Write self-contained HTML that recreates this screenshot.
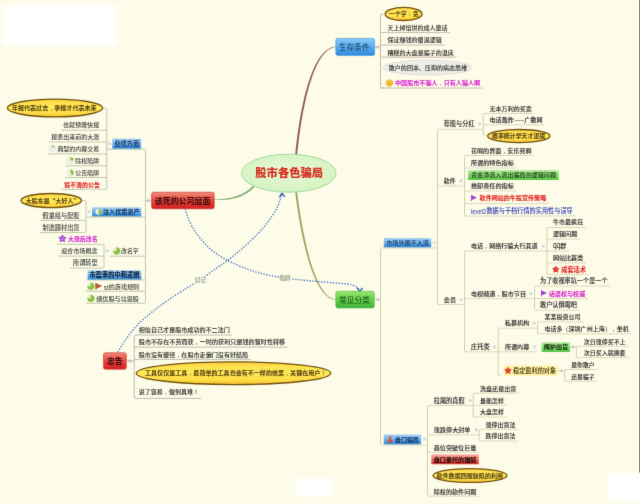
<!DOCTYPE html>
<html lang="zh-CN"><head><meta charset="utf-8"><title>股市各色骗局</title>
<style>html,body{margin:0;padding:0;background:#FDFCE8;}body{width:640px;height:504px;overflow:hidden;}svg{display:block;font-family:"Liberation Sans","Noto Sans CJK SC",sans-serif;}text{text-spacing-trim:space-all;}.p{font-family:"Liberation Sans","WenQuanYi Zen Hei",sans-serif;}.q{font-family:"Noto Sans CJK SC",sans-serif;}</style>
</head><body>
<svg width="640" height="504" viewBox="0 0 640 504">
<defs>
<linearGradient id="gYel" x1="0" y1="0" x2="0" y2="1"><stop offset="0" stop-color="#FCCF40"/><stop offset="0.25" stop-color="#FFE350"/><stop offset="0.5" stop-color="#FFE956"/><stop offset="0.8" stop-color="#FFDC44"/><stop offset="1" stop-color="#F6C032"/></linearGradient>
<linearGradient id="gBlue" x1="0" y1="0" x2="0" y2="1"><stop offset="0" stop-color="#8ACBF7"/><stop offset="0.5" stop-color="#57ACEE"/><stop offset="1" stop-color="#2F8BDD"/></linearGradient>
<linearGradient id="gBlueL" x1="0" y1="0" x2="0" y2="1"><stop offset="0" stop-color="#A9D3F4"/><stop offset="0.5" stop-color="#6DB2EA"/><stop offset="1" stop-color="#2C84D8"/></linearGradient>
<linearGradient id="gGreen" x1="0" y1="0" x2="0" y2="1"><stop offset="0" stop-color="#97E86B"/><stop offset="0.5" stop-color="#62CF4A"/><stop offset="1" stop-color="#3FB53A"/></linearGradient>
<linearGradient id="gGreenL" x1="0" y1="0" x2="0" y2="1"><stop offset="0" stop-color="#B8EFA2"/><stop offset="0.5" stop-color="#84DB6C"/><stop offset="1" stop-color="#55C648"/></linearGradient>
<linearGradient id="gRed" x1="0" y1="0" x2="0" y2="1"><stop offset="0" stop-color="#F58A78"/><stop offset="0.5" stop-color="#E8453A"/><stop offset="1" stop-color="#D31F1F"/></linearGradient>
<linearGradient id="gRedL" x1="0" y1="0" x2="0" y2="1"><stop offset="0" stop-color="#F9B5A8"/><stop offset="0.5" stop-color="#EE6A5E"/><stop offset="1" stop-color="#DD2B2B"/></linearGradient>
<radialGradient id="gCenter" cx="0.5" cy="0.45" r="0.6"><stop offset="0" stop-color="#E6F9D6"/><stop offset="1" stop-color="#D3F2BF"/></radialGradient>
<filter id="soft" x="0" y="0" width="640" height="504" filterUnits="userSpaceOnUse" color-interpolation-filters="sRGB"><feConvolveMatrix order="3" kernelMatrix="0 1 0 1 8 1 0 1 0" divisor="12" edgeMode="duplicate" preserveAlpha="false"/></filter>
<filter id="soft2" x="-20%" y="-20%" width="140%" height="140%"><feGaussianBlur stdDeviation="1.2"/></filter>
</defs>
<rect x="0" y="0" width="640" height="504" fill="#FDFCE8"/>
<g filter="url(#soft2)">
<rect x="2.5" y="5" width="115" height="40" fill="#FFFFFF"/>
<rect x="295.5" y="478.5" width="36" height="18" fill="#FFFFFF"/>
<rect x="607.5" y="473" width="40" height="28" fill="#FFFFFF"/>
</g>
<rect x="637.6" y="0" width="1.4" height="472.5" fill="#FFFFF2"/>
<rect x="639" y="0" width="1" height="472.5" fill="#85837B"/>
<g id="map" filter="url(#soft)" font-weight="500">
<path d="M296.95 156.09L297.30 152.62L297.67 149.09L298.08 145.52L298.51 141.91L298.97 138.27L299.45 134.61L299.97 130.93L300.51 127.24L301.09 123.54L301.69 119.86L302.33 116.18L302.99 112.53L303.69 108.90L304.42 105.30L305.18 101.75L305.97 98.24L306.80 94.79L307.66 91.41L308.55 88.09L309.48 84.85L310.45 81.70L311.45 78.63L312.48 75.67L313.55 72.81L314.66 70.06L315.81 67.44L316.99 64.94L318.21 62.58L319.46 60.36L320.76 58.28L322.10 56.36L323.47 54.61L324.88 53.02L326.34 51.61L327.83 50.37L329.37 49.32L330.95 48.47L332.59 47.81L334.27 47.36L336.01 47.12L335.99 46.68L334.18 46.83L332.40 47.21L330.66 47.82L328.97 48.64L327.32 49.66L325.71 50.89L324.16 52.30L322.64 53.90L321.18 55.67L319.76 57.60L318.38 59.69L317.05 61.94L315.76 64.32L314.51 66.84L313.31 69.48L312.14 72.25L311.02 75.13L309.94 78.12L308.90 81.20L307.89 84.37L306.93 87.63L306.00 90.97L305.11 94.37L304.25 97.84L303.43 101.36L302.65 104.93L301.90 108.54L301.19 112.19L300.50 115.86L299.86 119.55L299.24 123.25L298.66 126.95L298.10 130.66L297.58 134.35L297.09 138.03L296.62 141.68L296.19 145.30L295.78 148.89L295.41 152.42L295.05 155.91Z" fill="#8E5850"/>
<path d="M295.06 191.12L295.48 194.46L295.93 197.86L296.41 201.33L296.91 204.84L297.44 208.40L297.99 211.99L298.58 215.61L299.19 219.24L299.82 222.89L300.49 226.55L301.19 230.20L301.91 233.84L302.67 237.46L303.45 241.05L304.27 244.61L305.12 248.13L306.00 251.60L306.91 255.02L307.85 258.36L308.83 261.64L309.84 264.84L310.88 267.94L311.96 270.96L313.08 273.87L314.23 276.66L315.41 279.34L316.63 281.90L317.89 284.32L319.19 286.60L320.52 288.72L321.89 290.70L323.30 292.50L324.76 294.13L326.25 295.58L327.78 296.84L329.35 297.89L330.96 298.74L332.60 299.36L334.28 299.76L335.99 299.92L336.01 299.48L334.38 299.23L332.80 298.76L331.27 298.09L329.77 297.22L328.32 296.14L326.89 294.88L325.51 293.44L324.15 291.82L322.83 290.02L321.54 288.07L320.29 285.96L319.06 283.70L317.87 281.30L316.71 278.76L315.59 276.10L314.49 273.32L313.43 270.43L312.39 267.43L311.39 264.34L310.42 261.16L309.48 257.90L308.57 254.57L307.69 251.17L306.83 247.72L306.01 244.21L305.22 240.66L304.45 237.08L303.71 233.47L303.00 229.85L302.32 226.21L301.67 222.57L301.04 218.93L300.44 215.30L299.86 211.69L299.31 208.11L298.79 204.57L298.29 201.06L297.82 197.61L297.37 194.21L296.94 190.88Z" fill="#A2A05E"/>
<path d="M253.33 185.39L252.59 186.19L251.84 186.95L251.07 187.68L250.29 188.38L249.50 189.06L248.69 189.71L247.87 190.33L247.03 190.93L246.18 191.50L245.32 192.04L244.45 192.57L243.56 193.06L242.66 193.54L241.75 193.99L240.83 194.43L239.89 194.84L238.94 195.22L237.98 195.59L237.00 195.94L236.02 196.27L235.02 196.58L234.01 196.87L232.99 197.15L231.96 197.41L230.91 197.65L229.86 197.87L228.79 198.08L227.71 198.27L226.63 198.45L225.53 198.61L224.42 198.76L223.30 198.90L222.17 199.02L221.03 199.14L219.88 199.24L218.72 199.32L217.56 199.40L216.38 199.47L215.19 199.53L214.00 199.58L214.00 200.03L215.20 200.06L216.39 200.09L217.58 200.10L218.75 200.10L219.92 200.08L221.09 200.05L222.24 200.00L223.39 199.94L224.53 199.86L225.66 199.77L226.78 199.65L227.90 199.52L229.00 199.38L230.10 199.21L231.19 199.02L232.27 198.81L233.34 198.59L234.39 198.34L235.44 198.07L236.48 197.78L237.51 197.47L238.53 197.13L239.53 196.77L240.53 196.38L241.51 195.98L242.48 195.54L243.44 195.08L244.39 194.60L245.32 194.09L246.24 193.55L247.15 192.98L248.04 192.39L248.92 191.77L249.79 191.12L250.64 190.44L251.47 189.74L252.29 189.00L253.10 188.23L253.89 187.43L254.67 186.61Z" fill="#84AC72"/>
<path d="M185.20 209.00C185.75 210.63 187.07 215.40 188.50 218.80C189.93 222.20 191.53 225.77 193.80 229.40C196.07 233.03 198.98 237.03 202.10 240.60C205.22 244.17 208.33 247.53 212.50 250.80C216.67 254.07 221.88 257.38 227.10 260.20C232.32 263.02 238.60 265.62 243.80 267.70C249.00 269.78 253.10 271.23 258.30 272.70C263.50 274.17 269.08 275.42 275.00 276.50C280.92 277.58 287.80 278.47 293.80 279.20C299.80 279.93 303.47 280.22 311.00 280.90C318.53 281.58 332.08 282.62 339.00 283.30C345.92 283.98 349.10 283.95 352.50 285.00C355.90 286.05 358.25 288.83 359.40 289.60" stroke="#3A6CC6" stroke-width="1.35" stroke-dasharray="1.3 1.6" fill="none"/>
<path d="M117.80 352.00C119.10 349.97 122.38 344.27 125.60 339.80C128.82 335.33 132.75 329.78 137.10 325.20C141.45 320.62 146.50 316.50 151.70 312.30C156.90 308.10 162.33 304.12 168.30 300.00C174.27 295.88 182.22 290.93 187.50 287.60C192.78 284.27 195.13 283.27 200.00 280.00C204.87 276.73 211.83 271.47 216.70 268.00C221.57 264.53 225.03 262.37 229.20 259.20C233.37 256.03 236.85 253.33 241.70 249.00C246.55 244.67 253.78 237.93 258.30 233.20C262.82 228.47 265.68 224.80 268.80 220.60C271.92 216.40 274.87 212.23 277.00 208.00C279.13 203.77 280.83 197.33 281.60 195.20" stroke="#3A6CC6" stroke-width="1.35" stroke-dasharray="1.3 1.6" fill="none"/>
<path d="M279.3 197.3L282 193.2L284.7 196.9" stroke="#2F58A8" stroke-width="1.3" fill="none" stroke-linejoin="round"/>
<path d="M356.9 287.6L359.8 291.3L362.6 288" stroke="#2F58A8" stroke-width="1.3" fill="none" stroke-linejoin="round"/>
<rect x="279.30" y="274.40" width="11.70" height="6.80" rx="0.5" fill="#FDFCE8"/>
<text x="285.10" y="279.87" font-size="5.60" fill="#8A8A82" text-anchor="middle">陷阱</text>
<rect x="194.40" y="276.80" width="12.00" height="6.80" rx="0.5" fill="#FDFCE8"/>
<text x="200.40" y="282.27" font-size="5.60" fill="#8A8A82" text-anchor="middle">切记</text>
<ellipse cx="288.8" cy="173.2" rx="47.3" ry="19.0" fill="url(#gCenter)" stroke="#A2DA98" stroke-width="1"/>
<text x="289.20" y="177.42" font-size="11.30" fill="#D62A1C" text-anchor="middle" font-weight="700" style="font-weight:900">股市各色骗局</text>
<rect x="335.80" y="38.40" width="38.80" height="17.00" rx="2.0" fill="url(#gBlue)" stroke="#3E8FD8" stroke-width="0.6"/>
<text x="339.00" y="49.66" font-size="7.80" fill="#16304E" font-weight="400" textLength="30.60" lengthAdjust="spacingAndGlyphs">生存条件</text>
<rect x="335.80" y="291.30" width="38.50" height="16.70" rx="2.0" fill="url(#gGreen)" stroke="#4DB845" stroke-width="0.6"/>
<text x="339.00" y="303.10" font-size="7.91" fill="#184A16" font-weight="400" textLength="31.00" lengthAdjust="spacingAndGlyphs">常见分类</text>
<rect x="151.60" y="192.20" width="62.60" height="16.60" rx="2.0" fill="url(#gRed)" stroke="#B83028" stroke-width="0.6"/>
<text x="154.80" y="203.67" font-size="8.10" fill="#350C0C" stroke="#350C0C" stroke-width="0.06" font-weight="700" textLength="55.60" lengthAdjust="spacingAndGlyphs">该死的公司层面</text>
<rect x="103.50" y="352.70" width="22.80" height="16.60" rx="2.0" fill="url(#gRed)" stroke="#C03830" stroke-width="0.6"/>
<text x="107.00" y="363.71" font-size="7.96" fill="#350C0C" stroke="#350C0C" stroke-width="0.06" font-weight="700" textLength="15.60" lengthAdjust="spacingAndGlyphs">忠告</text>
<circle cx="377.50" cy="47.00" r="1.6" fill="#D3DBE6" stroke="#C9D3DF" stroke-width="0.4"/>
<path d="M374.5 47H380.5" stroke="#B3A59C" stroke-width="0.75" fill="none"/>
<path d="M383.50 14.20L382.10 14.20Q380.50 14.20 380.50 15.80L380.50 17.50V85.50L380.50 86.40Q380.50 88.00 382.10 88.00L383.50 88.00" stroke="#B3A59C" stroke-width="0.75" fill="none"/>
<ellipse cx="403.60" cy="13.90" rx="18.40" ry="6.55" fill="url(#gYel)" stroke="#73520F" stroke-width="1.35"/>
<text x="388.80" y="16.25" font-size="6.12" fill="#5A4214" stroke="#5A4214" stroke-width="0.06" font-weight="700" textLength="30.00" lengthAdjust="spacingAndGlyphs">一个字<tspan class="p">：</tspan>贪</text>
<text x="387.50" y="30.26" font-size="6.13" fill="#303030" stroke="#303030" stroke-width="0.05" textLength="60.10" lengthAdjust="spacingAndGlyphs">天上掉馅饼的成人童话</text>
<path d="M380.50 32.60H450.00" stroke="#B3A59C" stroke-width="0.75" fill="none"/>
<text x="387.50" y="42.26" font-size="6.14" fill="#303030" stroke="#303030" stroke-width="0.05" textLength="54.20" lengthAdjust="spacingAndGlyphs">保证赚钱的傻逼逻辑</text>
<path d="M380.50 45.00H444.50" stroke="#B3A59C" stroke-width="0.75" fill="none"/>
<text x="387.50" y="54.66" font-size="6.15" fill="#303030" stroke="#303030" stroke-width="0.05" textLength="66.30" lengthAdjust="spacingAndGlyphs">糟糕的大盘是骗子的温床</text>
<path d="M380.50 57.20H456.50" stroke="#B3A59C" stroke-width="0.75" fill="none"/>
<ellipse cx="427.5" cy="67.6" rx="44.3" ry="7.4" fill="#EEEEE9" stroke="#D6D6D0" stroke-width="0.7"/>
<text x="388.80" y="69.86" font-size="6.15" fill="#303030" stroke="#303030" stroke-width="0.05" textLength="78.40" lengthAdjust="spacingAndGlyphs">散户的回本、压抑的病态思维</text>
<circle cx="389.50" cy="83.00" r="3.30" fill="#FFD23C" stroke="#D9921E" stroke-width="0.6"/>
<circle cx="388.40" cy="82.20" r="0.45" fill="#7A4A10"/>
<circle cx="390.60" cy="82.20" r="0.45" fill="#7A4A10"/>
<path d="M387.80 83.60Q389.50 85.40 391.20 83.60" stroke="#7A4A10" stroke-width="0.5" fill="none"/>
<text x="395.00" y="85.28" font-size="6.21" fill="#D61FD0" stroke="#D61FD0" stroke-width="0.06" font-weight="700" textLength="85.20" lengthAdjust="spacingAndGlyphs">中国股市不骗人<tspan class="p">，</tspan>只有人骗人啊</text>
<path d="M380.50 88.00H482.50" stroke="#B3A59C" stroke-width="0.75" fill="none"/>
<circle cx="148.30" cy="200.60" r="1.6" fill="#D3DBE6" stroke="#C9D3DF" stroke-width="0.4"/>
<path d="M151.6 200.6H145.5" stroke="#ADB59C" stroke-width="0.75" fill="none"/>
<path d="M145.50 152.00V300.50L145.50 301.70Q145.50 303.30 143.90 303.30L142.50 303.30" stroke="#ADB59C" stroke-width="0.75" fill="none"/>
<rect x="112.30" y="138.50" width="28.80" height="10.30" rx="0.8" fill="url(#gBlueL)"/>
<text x="126.70" y="146.05" font-size="6.40" fill="#1A3560" text-anchor="middle" font-weight="700" textLength="25.00" lengthAdjust="spacingAndGlyphs">业绩方面</text>
<path d="M106.80 149.20H142.50L143.90 149.20Q145.50 149.20 145.50 150.80L145.50 152.00" stroke="#ADB59C" stroke-width="0.75" fill="none"/>
<circle cx="109.60" cy="143.80" r="1.4" fill="#D3DBE6" stroke="#C9D3DF" stroke-width="0.4"/>
<path d="M103.00 108.20H104.30L105.20 108.20Q106.80 108.20 106.80 109.80L106.80 111.00V186.50L106.80 187.70Q106.80 189.30 105.20 189.30L104.30 189.30" stroke="#ADB59C" stroke-width="0.75" fill="none"/>
<ellipse cx="55.00" cy="108.00" rx="47.60" ry="8.85" fill="url(#gYel)" stroke="#73520F" stroke-width="1.35"/>
<text x="11.90" y="110.37" font-size="6.17" fill="#5A4214" stroke="#5A4214" stroke-width="0.06" font-weight="700" textLength="84.70" lengthAdjust="spacingAndGlyphs">年报代表过去<tspan class="p">，</tspan>季报才代表未来</text>
<text x="63.00" y="127.47" font-size="6.15" fill="#3a3a3a" textLength="36.20" lengthAdjust="spacingAndGlyphs">也就预增快报</text>
<path d="M61.00 130.20H106.80" stroke="#ADB59C" stroke-width="0.75" fill="none"/>
<text x="51.20" y="139.25" font-size="6.12" fill="#3a3a3a" textLength="48.00" lengthAdjust="spacingAndGlyphs">报表出来前的大涨</text>
<path d="M49.20 142.00H106.80" stroke="#ADB59C" stroke-width="0.75" fill="none"/>
<circle cx="52.30" cy="148.50" r="3.30" fill="#F1F2EC" stroke="#D2D4CA" stroke-width="0.5"/>
<path d="M52.30 148.50L52.30 145.20A3.30 3.30 0 0 1 54.63 146.17Z" fill="#8CC63F"/>
<text x="57.40" y="151.14" font-size="6.09" fill="#3a3a3a" textLength="41.80" lengthAdjust="spacingAndGlyphs">典型的内幕交易</text>
<path d="M47.50 153.90H106.80" stroke="#ADB59C" stroke-width="0.75" fill="none"/>
<circle cx="70.40" cy="160.50" r="3.30" fill="#F1F2EC" stroke="#D2D4CA" stroke-width="0.5"/>
<path d="M70.40 160.50L70.40 157.20A3.30 3.30 0 0 1 73.70 160.50Z" fill="#8CC63F"/>
<text x="75.30" y="163.04" font-size="6.09" fill="#3a3a3a" textLength="23.90" lengthAdjust="spacingAndGlyphs">除权陷阱</text>
<path d="M65.50 165.80H106.80" stroke="#ADB59C" stroke-width="0.75" fill="none"/>
<circle cx="70.40" cy="172.70" r="3.30" fill="#F1F2EC" stroke="#D2D4CA" stroke-width="0.5"/>
<path d="M70.40 172.70L70.40 169.40A3.30 3.30 0 0 1 71.99 175.59Z" fill="#8CC63F"/>
<text x="75.30" y="174.74" font-size="6.09" fill="#3a3a3a" textLength="23.90" lengthAdjust="spacingAndGlyphs">公告陷阱</text>
<path d="M65.50 177.50H106.80" stroke="#ADB59C" stroke-width="0.75" fill="none"/>
<text x="64.00" y="186.55" font-size="6.12" fill="#E0201C" stroke="#E0201C" stroke-width="0.06" font-weight="700" textLength="36.00" lengthAdjust="spacingAndGlyphs">说不清的公告</text>
<path d="M62.00 189.30H104.30" stroke="#ADB59C" stroke-width="0.75" fill="none"/>
<rect x="92.00" y="207.20" width="49.20" height="9.40" rx="0.8" fill="url(#gBlueL)"/>
<circle cx="98.50" cy="211.80" r="2.90" fill="#F1F2EC" stroke="#D2D4CA" stroke-width="0.5"/>
<path d="M98.50 211.80L98.50 208.90A2.90 2.90 0 0 1 98.50 214.70Z" fill="#8CC63F"/>
<text x="103.00" y="214.19" font-size="6.22" fill="#1A3560" stroke="#1A3560" stroke-width="0.06" font-weight="700" textLength="36.60" lengthAdjust="spacingAndGlyphs">注入优质资产</text>
<path d="M86.00 217.00H145.50" stroke="#ADB59C" stroke-width="0.75" fill="none"/>
<circle cx="89.00" cy="211.60" r="1.4" fill="#D3DBE6" stroke="#C9D3DF" stroke-width="0.4"/>
<path d="M82.00 200.50H84.00L84.40 200.50Q86.00 200.50 86.00 202.10L86.00 203.00V230.00L86.00 231.00Q86.00 232.60 84.40 232.60L83.50 232.60" stroke="#ADB59C" stroke-width="0.75" fill="none"/>
<ellipse cx="51.30" cy="200.50" rx="30.20" ry="7.05" fill="url(#gYel)" stroke="#73520F" stroke-width="1.35"/>
<text x="25.80" y="202.73" font-size="6.07" fill="#5A4214" stroke="#5A4214" stroke-width="0.06" font-weight="700" textLength="53.55" lengthAdjust="spacingAndGlyphs">大股东是<tspan class="q">“</tspan>大好人<tspan class="q">”</tspan></text>
<text x="42.50" y="217.91" font-size="6.29" fill="#3a3a3a" textLength="37.00" lengthAdjust="spacingAndGlyphs">假重组与配股</text>
<path d="M40.00 220.40H86.00" stroke="#ADB59C" stroke-width="0.75" fill="none"/>
<text x="42.50" y="230.31" font-size="6.29" fill="#3a3a3a" textLength="37.00" lengthAdjust="spacingAndGlyphs">制造题材出货</text>
<path d="M40.00 232.60H83.50" stroke="#ADB59C" stroke-width="0.75" fill="none"/>
<circle cx="116.65" cy="251.00" r="3.45" fill="#EEF3D6" stroke="#CFDDB0" stroke-width="0.3"/>
<path d="M116.65 251.00L116.65 247.55A3.45 3.45 0 1 1 113.20 251.00Z" fill="#8CC63E" stroke="#7DB836" stroke-width="0.3"/>
<text x="121.00" y="253.23" font-size="6.05" fill="#3a3a3a" textLength="17.80" lengthAdjust="spacingAndGlyphs">改名字</text>
<path d="M110.00 256.20H145.50" stroke="#ADB59C" stroke-width="0.75" fill="none"/>
<circle cx="107.30" cy="251.00" r="1.4" fill="#D3DBE6" stroke="#C9D3DF" stroke-width="0.4"/>
<path d="M57.00 244.30H101.50L102.40 244.30Q104.00 244.30 104.00 245.90L104.00 247.00V265.50L104.00 266.50Q104.00 268.10 102.40 268.10L101.50 268.10" stroke="#ADB59C" stroke-width="0.75" fill="none"/>
<polygon points="62.40,234.90 63.64,236.99 66.01,237.53 64.41,239.35 64.63,241.77 62.40,240.81 60.17,241.77 60.39,239.35 58.79,237.53 61.16,236.99" fill="#A94EE0" stroke="#8428C0" stroke-width="0.6" stroke-linejoin="round"/>
<circle cx="62.40" cy="238.70" r="1.17" fill="#C88AEE"/>
<text x="68.00" y="241.02" font-size="6.04" fill="#D61FD0" stroke="#D61FD0" stroke-width="0.06" font-weight="700" textLength="29.60" lengthAdjust="spacingAndGlyphs">大涨后改名</text>
<text x="61.00" y="253.29" font-size="6.22" fill="#3a3a3a" textLength="36.60" lengthAdjust="spacingAndGlyphs">迎合市场概念</text>
<path d="M58.00 256.10H104.00" stroke="#ADB59C" stroke-width="0.75" fill="none"/>
<text x="73.00" y="265.31" font-size="6.27" fill="#3a3a3a" textLength="24.60" lengthAdjust="spacingAndGlyphs">所谓转型</text>
<path d="M70.00 268.10H101.50" stroke="#ADB59C" stroke-width="0.75" fill="none"/>
<rect x="87.60" y="270.20" width="53.70" height="9.50" rx="0.8" fill="url(#gBlueL)"/>
<text x="89.60" y="277.34" font-size="6.35" fill="#0A1428" stroke="#0A1428" stroke-width="0.06" font-weight="700" textLength="49.80" lengthAdjust="spacingAndGlyphs">市盈率的中和逻辑</text>
<path d="M86.00 279.90H145.50" stroke="#ADB59C" stroke-width="0.75" fill="none"/>
<circle cx="90.85" cy="286.30" r="3.45" fill="#EEF3D6" stroke="#CFDDB0" stroke-width="0.3"/>
<path d="M90.85 286.30L90.85 282.85A3.45 3.45 0 1 1 87.40 286.30Z" fill="#8CC63E" stroke="#7DB836" stroke-width="0.3"/>
<path d="M95.60 282.90L102.40 286.00L95.60 289.10Z" fill="#B4583A"/>
<path d="M95.90 282.90V289.90" stroke="#B4583A" stroke-width="0.8"/>
<text x="103.80" y="289.63" font-size="8.00" fill="#3a3a3a" textLength="5.00" lengthAdjust="spacingAndGlyphs">st</text>
<text x="108.80" y="288.57" font-size="6.16" fill="#3a3a3a" textLength="30.20" lengthAdjust="spacingAndGlyphs">的游戏规则</text>
<path d="M86.00 291.20H145.50" stroke="#ADB59C" stroke-width="0.75" fill="none"/>
<circle cx="90.85" cy="298.40" r="3.45" fill="#EEF3D6" stroke="#CFDDB0" stroke-width="0.3"/>
<path d="M90.85 298.40L90.85 294.95A3.45 3.45 0 1 1 87.40 298.40Z" fill="#8CC63E" stroke="#7DB836" stroke-width="0.3"/>
<text x="96.20" y="300.80" font-size="6.24" fill="#3a3a3a" textLength="42.80" lengthAdjust="spacingAndGlyphs">绩优股与垃圾股</text>
<path d="M86.00 303.30H142.50" stroke="#ADB59C" stroke-width="0.75" fill="none"/>
<circle cx="130.00" cy="361.00" r="1.6" fill="#D3DBE6" stroke="#C9D3DF" stroke-width="0.4"/>
<path d="M126.3 361H134.2" stroke="#A6A69E" stroke-width="0.75" fill="none"/>
<path d="M137.20 335.00L135.80 335.00Q134.20 335.00 134.20 336.60L134.20 338.00V395.60L134.20 396.80Q134.20 398.40 135.80 398.40L137.20 398.40" stroke="#A6A69E" stroke-width="0.75" fill="none"/>
<text x="138.80" y="332.28" font-size="6.19" fill="#2a2a2a" stroke="#2a2a2a" stroke-width="0.05" textLength="91.00" lengthAdjust="spacingAndGlyphs">相信自己才是股市成功的不二法门</text>
<path d="M137.20 335.00H232.00" stroke="#A6A69E" stroke-width="0.75" fill="none"/>
<text x="138.80" y="344.39" font-size="6.22" fill="#2a2a2a" stroke="#2a2a2a" stroke-width="0.05" textLength="146.40" lengthAdjust="spacingAndGlyphs">股市不存在不劳而获<tspan class="p">，</tspan>一时的获利只是钱的暂时性转移</text>
<path d="M134.20 347.10H287.50" stroke="#A6A69E" stroke-width="0.75" fill="none"/>
<text x="138.80" y="356.68" font-size="6.20" fill="#2a2a2a" stroke="#2a2a2a" stroke-width="0.05" textLength="109.40" lengthAdjust="spacingAndGlyphs">股市没有捷径<tspan class="p">，</tspan>在股市走偏门没有好结局</text>
<path d="M134.20 359.40H250.50" stroke="#A6A69E" stroke-width="0.75" fill="none"/>
<ellipse cx="233.50" cy="373.20" rx="97.20" ry="11.35" fill="url(#gYel)" stroke="#73520F" stroke-width="1.35"/>
<text x="145.00" y="375.47" font-size="6.17" fill="#5A4214" stroke="#5A4214" stroke-width="0.06" font-weight="700" textLength="181.40" lengthAdjust="spacingAndGlyphs">工具仅仅是工具<tspan class="p">，</tspan>最简单的工具也会有不一样的效果<tspan class="p">，</tspan>关键在用户<tspan class="p">！</tspan></text>
<text x="138.80" y="394.46" font-size="6.14" fill="#2a2a2a" stroke="#2a2a2a" stroke-width="0.05" textLength="60.20" lengthAdjust="spacingAndGlyphs">说了容易<tspan class="p">，</tspan>做到真难<tspan class="p">！</tspan></text>
<path d="M137.20 398.40H201.50" stroke="#A6A69E" stroke-width="0.75" fill="none"/>
<circle cx="377.80" cy="299.60" r="1.6" fill="#D3DBE6" stroke="#C9D3DF" stroke-width="0.4"/>
<path d="M374.5 299.6H380.5" stroke="#C2C2A2" stroke-width="0.75" fill="none"/>
<path d="M383.50 248.00L382.10 248.00Q380.50 248.00 380.50 249.60L380.50 251.00V442.30L380.50 443.40Q380.50 445.00 382.10 445.00L383.50 445.00" stroke="#C2C2A2" stroke-width="0.75" fill="none"/>
<rect x="383.80" y="238.00" width="47.40" height="9.40" rx="0.8" fill="url(#gBlueL)"/>
<text x="386.20" y="245.10" font-size="6.24" fill="#1A3560" textLength="42.80" lengthAdjust="spacingAndGlyphs">市场外围不入流</text>
<path d="M383.50 248.00H437.50" stroke="#CDCDB0" stroke-width="0.75" fill="none"/>
<circle cx="434.50" cy="242.80" r="1.4" fill="#D3DBE6" stroke="#C9D3DF" stroke-width="0.4"/>
<path d="M440.50 129.40L439.10 129.40Q437.50 129.40 437.50 131.00L437.50 132.40V301.60L437.50 302.90Q437.50 304.50 439.10 304.50L440.50 304.50" stroke="#C2C2A2" stroke-width="0.75" fill="none"/>
<text x="443.80" y="126.11" font-size="6.28" fill="#1e1e1e" stroke="#1e1e1e" stroke-width="0.06" textLength="30.80" lengthAdjust="spacingAndGlyphs">荐股与分红</text>
<path d="M440.50 129.40H483.20" stroke="#CDCDB0" stroke-width="0.75" fill="none"/>
<circle cx="479.60" cy="123.90" r="1.4" fill="#D3DBE6" stroke="#C9D3DF" stroke-width="0.4"/>
<path d="M486.20 113.60L484.80 113.60Q483.20 113.60 483.20 115.20L483.20 116.50V132.50L483.20 133.40Q483.20 135.00 484.80 135.00L486.20 135.00" stroke="#C2C2A2" stroke-width="0.75" fill="none"/>
<text x="489.50" y="110.57" font-size="6.16" fill="#1e1e1e" stroke="#1e1e1e" stroke-width="0.06" textLength="42.30" lengthAdjust="spacingAndGlyphs">无本万利的买卖</text>
<path d="M486.20 113.60H534.50" stroke="#CDCDB0" stroke-width="0.75" fill="none"/>
<text x="489.50" y="122.08" font-size="6.20" fill="#1e1e1e" stroke="#1e1e1e" stroke-width="0.06" textLength="24.30" lengthAdjust="spacingAndGlyphs">电话轰炸</text>
<text x="514.40" y="121.81" font-size="6.00" fill="#1e1e1e" stroke="#1e1e1e" stroke-width="0.06" textLength="9.60" lengthAdjust="spacingAndGlyphs">-----</text>
<text x="524.30" y="122.08" font-size="6.19" fill="#1e1e1e" stroke="#1e1e1e" stroke-width="0.06" textLength="18.20" lengthAdjust="spacingAndGlyphs">广撒网</text>
<path d="M483.20 124.80H545.00" stroke="#CDCDB0" stroke-width="0.75" fill="none"/>
<ellipse cx="518.80" cy="136.00" rx="31.20" ry="6.55" fill="url(#gYel)" stroke="#73520F" stroke-width="1.35"/>
<text x="492.00" y="138.22" font-size="6.03" fill="#5A4214" stroke="#5A4214" stroke-width="0.06" font-weight="700" textLength="53.20" lengthAdjust="spacingAndGlyphs">概率统计学天才逻辑</text>
<text x="443.80" y="183.25" font-size="6.12" fill="#1e1e1e" stroke="#1e1e1e" stroke-width="0.06" textLength="12.00" lengthAdjust="spacingAndGlyphs">软件</text>
<path d="M437.50 186.00H464.50" stroke="#CDCDB0" stroke-width="0.75" fill="none"/>
<circle cx="461.00" cy="181.00" r="1.4" fill="#D3DBE6" stroke="#C9D3DF" stroke-width="0.4"/>
<path d="M467.50 155.50L466.10 155.50Q464.50 155.50 464.50 157.10L464.50 158.50V213.20L464.50 214.40Q464.50 216.00 466.10 216.00L467.50 216.00" stroke="#C2C2A2" stroke-width="0.75" fill="none"/>
<text x="471.00" y="152.77" font-size="6.17" fill="#1e1e1e" stroke="#1e1e1e" stroke-width="0.06" textLength="60.50" lengthAdjust="spacingAndGlyphs">花哨的界面<tspan class="p">，</tspan>安乐死啊</text>
<path d="M467.50 155.50H534.00" stroke="#CDCDB0" stroke-width="0.75" fill="none"/>
<text x="471.00" y="165.30" font-size="6.24" fill="#1e1e1e" stroke="#1e1e1e" stroke-width="0.06" textLength="42.80" lengthAdjust="spacingAndGlyphs">所谓的特色指标</text>
<path d="M464.50 168.00H516.50" stroke="#CDCDB0" stroke-width="0.75" fill="none"/>
<rect x="468.00" y="170.00" width="90.80" height="10.00" rx="0.6" fill="url(#gGreenL)"/>
<text x="471.00" y="177.38" font-size="6.19" fill="#1E2E14" textLength="85.00" lengthAdjust="spacingAndGlyphs">资金净流入流出骗局的逻辑问题</text>
<text x="471.00" y="188.30" font-size="6.24" fill="#1e1e1e" stroke="#1e1e1e" stroke-width="0.06" textLength="42.80" lengthAdjust="spacingAndGlyphs">推卸责任的指标</text>
<path d="M464.50 191.00H516.50" stroke="#CDCDB0" stroke-width="0.75" fill="none"/>
<path d="M471.20 195.10L477.00 197.70L471.20 200.30Z" fill="#9A3FD6"/>
<path d="M471.50 195.10V201.10" stroke="#9A3FD6" stroke-width="0.8"/>
<text x="479.60" y="200.37" font-size="6.18" fill="#E0201C" stroke="#E0201C" stroke-width="0.06" font-weight="700" textLength="66.60" lengthAdjust="spacingAndGlyphs">软件网站的牛股宣传策略</text>
<path d="M464.50 203.60H549.00" stroke="#CDCDB0" stroke-width="0.75" fill="none"/>
<text x="471.00" y="213.71" font-size="7.40" fill="#2632B0" textLength="15.20" lengthAdjust="spacingAndGlyphs">level2</text>
<text x="486.40" y="212.82" font-size="6.29" fill="#2632B0" textLength="86.40" lengthAdjust="spacingAndGlyphs">数据与干档行情的实用性与误导</text>
<path d="M467.50 216.00H575.50" stroke="#CDCDB0" stroke-width="0.75" fill="none"/>
<text x="443.80" y="301.79" font-size="6.22" fill="#1e1e1e" stroke="#1e1e1e" stroke-width="0.06" textLength="12.20" lengthAdjust="spacingAndGlyphs">会员</text>
<path d="M440.50 304.50H464.50" stroke="#CDCDB0" stroke-width="0.75" fill="none"/>
<circle cx="461.00" cy="299.60" r="1.4" fill="#D3DBE6" stroke="#C9D3DF" stroke-width="0.4"/>
<path d="M467.50 251.00L466.10 251.00Q464.50 251.00 464.50 252.60L464.50 254.00V349.00L464.50 350.20Q464.50 351.80 466.10 351.80L467.50 351.80" stroke="#C2C2A2" stroke-width="0.75" fill="none"/>
<text x="471.00" y="248.27" font-size="6.18" fill="#1e1e1e" stroke="#1e1e1e" stroke-width="0.06" textLength="66.60" lengthAdjust="spacingAndGlyphs">电话<tspan class="p">，</tspan>网络行骗大行其道</text>
<path d="M467.50 251.00H547.00" stroke="#CDCDB0" stroke-width="0.75" fill="none"/>
<circle cx="543.20" cy="246.00" r="1.4" fill="#D3DBE6" stroke="#C9D3DF" stroke-width="0.4"/>
<path d="M550.00 227.50L548.60 227.50Q547.00 227.50 547.00 229.10L547.00 230.50V271.80L547.00 273.00Q547.00 274.60 548.60 274.60L550.00 274.60" stroke="#C2C2A2" stroke-width="0.75" fill="none"/>
<text x="553.00" y="224.47" font-size="6.16" fill="#1e1e1e" stroke="#1e1e1e" stroke-width="0.06" textLength="30.20" lengthAdjust="spacingAndGlyphs">牛市最疯狂</text>
<path d="M550.00 227.50H586.00" stroke="#CDCDB0" stroke-width="0.75" fill="none"/>
<text x="553.00" y="236.37" font-size="6.17" fill="#1e1e1e" stroke="#1e1e1e" stroke-width="0.06" textLength="24.20" lengthAdjust="spacingAndGlyphs">逻辑问题</text>
<path d="M547.00 239.10H580.00" stroke="#CDCDB0" stroke-width="0.75" fill="none"/>
<text x="553.00" y="248.40" font-size="8.20" fill="#1e1e1e" stroke="#1e1e1e" stroke-width="0.06" textLength="7.20" lengthAdjust="spacingAndGlyphs">qq</text>
<text x="560.20" y="248.29" font-size="6.22" fill="#1e1e1e" stroke="#1e1e1e" stroke-width="0.06" textLength="6.10" lengthAdjust="spacingAndGlyphs">群</text>
<path d="M547.00 251.00H569.00" stroke="#CDCDB0" stroke-width="0.75" fill="none"/>
<text x="553.00" y="260.27" font-size="6.16" fill="#1e1e1e" stroke="#1e1e1e" stroke-width="0.06" textLength="30.20" lengthAdjust="spacingAndGlyphs">网站比赛类</text>
<path d="M547.00 263.00H586.00" stroke="#CDCDB0" stroke-width="0.75" fill="none"/>
<polygon points="555.80,266.10 556.91,267.97 559.03,268.45 557.60,270.08 557.80,272.25 555.80,271.39 553.80,272.25 554.00,270.08 552.57,268.45 554.69,267.97" fill="#E8402A" stroke="#C82A1A" stroke-width="0.6" stroke-linejoin="round"/>
<text x="561.20" y="271.93" font-size="6.32" fill="#E0201C" stroke="#E0201C" stroke-width="0.06" font-weight="700" textLength="24.80" lengthAdjust="spacingAndGlyphs">成套话术</text>
<path d="M550.00 274.60H589.00" stroke="#CDCDB0" stroke-width="0.75" fill="none"/>
<text x="471.00" y="295.99" font-size="6.23" fill="#1e1e1e" stroke="#1e1e1e" stroke-width="0.06" textLength="55.00" lengthAdjust="spacingAndGlyphs">电视频道<tspan class="p">，</tspan>股市节目</text>
<path d="M464.50 298.70H534.50" stroke="#CDCDB0" stroke-width="0.75" fill="none"/>
<circle cx="531.00" cy="293.70" r="1.4" fill="#D3DBE6" stroke="#C9D3DF" stroke-width="0.4"/>
<path d="M537.50 286.00L536.10 286.00Q534.50 286.00 534.50 287.60L534.50 289.00V307.40L534.50 308.60Q534.50 310.20 536.10 310.20L537.50 310.20" stroke="#C2C2A2" stroke-width="0.75" fill="none"/>
<text x="540.00" y="283.31" font-size="6.27" fill="#1e1e1e" stroke="#1e1e1e" stroke-width="0.06" textLength="67.60" lengthAdjust="spacingAndGlyphs">为了收视率坑一个是一个</text>
<path d="M537.50 286.00H610.00" stroke="#CDCDB0" stroke-width="0.75" fill="none"/>
<path d="M541.20 290.30L547.00 292.90L541.20 295.50Z" fill="#9A3FD6"/>
<path d="M541.50 290.30V296.30" stroke="#9A3FD6" stroke-width="0.8"/>
<text x="548.80" y="295.58" font-size="6.19" fill="#D61FD0" stroke="#D61FD0" stroke-width="0.06" font-weight="700" textLength="36.40" lengthAdjust="spacingAndGlyphs">话语权与权威</text>
<path d="M534.50 298.50H588.00" stroke="#CDCDB0" stroke-width="0.75" fill="none"/>
<text x="540.00" y="307.41" font-size="6.29" fill="#1e1e1e" stroke="#1e1e1e" stroke-width="0.06" textLength="37.00" lengthAdjust="spacingAndGlyphs">散户认倒霉吧</text>
<path d="M537.50 310.20H580.00" stroke="#CDCDB0" stroke-width="0.75" fill="none"/>
<text x="471.00" y="349.13" font-size="6.32" fill="#1e1e1e" stroke="#1e1e1e" stroke-width="0.06" textLength="18.60" lengthAdjust="spacingAndGlyphs">庄托类</text>
<path d="M467.50 351.80H498.30" stroke="#CDCDB0" stroke-width="0.75" fill="none"/>
<circle cx="494.60" cy="346.80" r="1.4" fill="#D3DBE6" stroke="#C9D3DF" stroke-width="0.4"/>
<path d="M501.30 328.20L499.90 328.20Q498.30 328.20 498.30 329.80L498.30 331.20V373.00L498.30 374.20Q498.30 375.80 499.90 375.80L501.30 375.80" stroke="#C2C2A2" stroke-width="0.75" fill="none"/>
<text x="505.00" y="325.49" font-size="6.22" fill="#1e1e1e" stroke="#1e1e1e" stroke-width="0.06" textLength="24.40" lengthAdjust="spacingAndGlyphs">私募机构</text>
<path d="M501.30 328.20H537.50" stroke="#CDCDB0" stroke-width="0.75" fill="none"/>
<circle cx="534.00" cy="323.20" r="1.4" fill="#D3DBE6" stroke="#C9D3DF" stroke-width="0.4"/>
<path d="M540.50 322.00L539.10 322.00Q537.50 322.00 537.50 323.60L537.50 325.00V331.00L537.50 332.20Q537.50 333.80 539.10 333.80L540.50 333.80" stroke="#C2C2A2" stroke-width="0.75" fill="none"/>
<text x="544.50" y="319.26" font-size="6.14" fill="#1e1e1e" stroke="#1e1e1e" stroke-width="0.06" textLength="36.10" lengthAdjust="spacingAndGlyphs">某某投资公司</text>
<path d="M540.50 322.00H583.50" stroke="#CDCDB0" stroke-width="0.75" fill="none"/>
<text x="544.50" y="331.06" font-size="6.14" fill="#1e1e1e" stroke="#1e1e1e" stroke-width="0.06" textLength="84.30" lengthAdjust="spacingAndGlyphs">电话多<tspan class="p">（</tspan>深圳广州上海<tspan class="p">）</tspan><tspan class="p">，</tspan>坐机</text>
<path d="M540.50 333.80H631.50" stroke="#CDCDB0" stroke-width="0.75" fill="none"/>
<text x="505.00" y="349.07" font-size="6.17" fill="#1e1e1e" stroke="#1e1e1e" stroke-width="0.06" textLength="24.20" lengthAdjust="spacingAndGlyphs">所谓内幕</text>
<path d="M498.30 351.80H537.50" stroke="#CDCDB0" stroke-width="0.75" fill="none"/>
<circle cx="534.40" cy="346.80" r="1.4" fill="#D3DBE6" stroke="#C9D3DF" stroke-width="0.4"/>
<rect x="541.60" y="342.20" width="28.40" height="9.80" rx="0.6" fill="url(#gGreenL)"/>
<text x="543.80" y="349.37" font-size="6.17" fill="#14280E" stroke="#14280E" stroke-width="0.06" font-weight="700" textLength="24.20" lengthAdjust="spacingAndGlyphs">掩护出货</text>
<circle cx="573.00" cy="347.00" r="1.4" fill="#D3DBE6" stroke="#C9D3DF" stroke-width="0.4"/>
<path d="M570 347H576.4" stroke="#C2C2A2" stroke-width="0.75" fill="none"/>
<path d="M579.40 346.30L578.00 346.30Q576.40 346.30 576.40 347.90L576.40 349.00V355.00L576.40 356.00Q576.40 357.60 578.00 357.60L579.40 357.60" stroke="#C2C2A2" stroke-width="0.75" fill="none"/>
<text x="583.80" y="343.54" font-size="6.09" fill="#1e1e1e" stroke="#1e1e1e" stroke-width="0.06" textLength="41.80" lengthAdjust="spacingAndGlyphs">次日涨停买不上</text>
<path d="M579.40 346.30H628.50" stroke="#CDCDB0" stroke-width="0.75" fill="none"/>
<text x="583.80" y="354.84" font-size="6.09" fill="#1e1e1e" stroke="#1e1e1e" stroke-width="0.06" textLength="41.80" lengthAdjust="spacingAndGlyphs">次日买入就换套</text>
<path d="M579.40 357.60H628.50" stroke="#CDCDB0" stroke-width="0.75" fill="none"/>
<rect x="503.80" y="365.60" width="54.00" height="10.20" rx="0.6" fill="#FFF2A6"/>
<polygon points="508.00,367.30 509.11,369.17 511.23,369.65 509.80,371.28 510.00,373.45 508.00,372.59 506.00,373.45 506.20,371.28 504.77,369.65 506.89,369.17" fill="#E8402A" stroke="#C82A1A" stroke-width="0.6" stroke-linejoin="round"/>
<text x="513.00" y="373.12" font-size="6.29" fill="#3A2A08" textLength="43.20" lengthAdjust="spacingAndGlyphs">稳定盈利的对象</text>
<circle cx="561.00" cy="370.80" r="1.4" fill="#D3DBE6" stroke="#C9D3DF" stroke-width="0.4"/>
<path d="M557.8 370.8H564.6" stroke="#C2C2A2" stroke-width="0.75" fill="none"/>
<path d="M567.60 369.50L566.20 369.50Q564.60 369.50 564.60 371.10L564.60 372.30V378.60L564.60 379.70Q564.60 381.30 566.20 381.30L567.60 381.30" stroke="#C2C2A2" stroke-width="0.75" fill="none"/>
<text x="571.30" y="366.69" font-size="5.94" fill="#1e1e1e" stroke="#1e1e1e" stroke-width="0.06" textLength="23.30" lengthAdjust="spacingAndGlyphs">是你散户</text>
<path d="M567.60 369.50H597.50" stroke="#CDCDB0" stroke-width="0.75" fill="none"/>
<text x="571.30" y="378.79" font-size="5.94" fill="#1e1e1e" stroke="#1e1e1e" stroke-width="0.06" textLength="23.30" lengthAdjust="spacingAndGlyphs">还是骗子</text>
<path d="M567.60 381.30H597.50" stroke="#CDCDB0" stroke-width="0.75" fill="none"/>
<rect x="383.80" y="434.40" width="37.20" height="10.10" rx="0.8" fill="url(#gBlueL)"/>
<circle cx="390.00" cy="437.40" r="1.45" fill="#E8603A"/>
<path d="M387.70 442.50Q387.70 438.70 390.00 438.70Q392.30 438.70 392.30 442.50Z" fill="#DC4A2C"/>
<text x="395.00" y="441.63" font-size="6.07" fill="#1A3560" stroke="#1A3560" stroke-width="0.06" font-weight="700" textLength="23.80" lengthAdjust="spacingAndGlyphs">盘口骗局</text>
<path d="M383.50 445.00H427.50" stroke="#CDCDB0" stroke-width="0.75" fill="none"/>
<circle cx="424.60" cy="439.20" r="1.4" fill="#D3DBE6" stroke="#C9D3DF" stroke-width="0.4"/>
<path d="M430.50 405.50L429.10 405.50Q427.50 405.50 427.50 407.10L427.50 408.50V493.40L427.50 494.60Q427.50 496.20 429.10 496.20L430.50 496.20" stroke="#C2C2A2" stroke-width="0.75" fill="none"/>
<text x="433.80" y="402.81" font-size="6.28" fill="#1e1e1e" stroke="#1e1e1e" stroke-width="0.06" textLength="30.80" lengthAdjust="spacingAndGlyphs">拉尾的真假</text>
<path d="M430.50 405.50H473.20" stroke="#CDCDB0" stroke-width="0.75" fill="none"/>
<circle cx="470.00" cy="400.50" r="1.4" fill="#D3DBE6" stroke="#C9D3DF" stroke-width="0.4"/>
<path d="M476.20 393.20L474.80 393.20Q473.20 393.20 473.20 394.80L473.20 396.00V414.20L473.20 415.40Q473.20 417.00 474.80 417.00L476.20 417.00" stroke="#C2C2A2" stroke-width="0.75" fill="none"/>
<text x="480.00" y="390.67" font-size="6.17" fill="#1e1e1e" stroke="#1e1e1e" stroke-width="0.06" textLength="36.30" lengthAdjust="spacingAndGlyphs">洗盘还是出货</text>
<path d="M476.20 393.20H519.50" stroke="#CDCDB0" stroke-width="0.75" fill="none"/>
<text x="480.00" y="402.74" font-size="6.09" fill="#1e1e1e" stroke="#1e1e1e" stroke-width="0.06" textLength="23.90" lengthAdjust="spacingAndGlyphs">量能怎样</text>
<path d="M473.20 405.20H507.00" stroke="#CDCDB0" stroke-width="0.75" fill="none"/>
<text x="480.00" y="414.34" font-size="6.09" fill="#1e1e1e" stroke="#1e1e1e" stroke-width="0.06" textLength="23.90" lengthAdjust="spacingAndGlyphs">大盘怎样</text>
<path d="M476.20 417.00H507.00" stroke="#CDCDB0" stroke-width="0.75" fill="none"/>
<text x="433.80" y="432.10" font-size="6.24" fill="#1e1e1e" stroke="#1e1e1e" stroke-width="0.06" textLength="36.70" lengthAdjust="spacingAndGlyphs">涨跌停大封单</text>
<path d="M427.50 434.90H479.20" stroke="#CDCDB0" stroke-width="0.75" fill="none"/>
<circle cx="476.20" cy="429.80" r="1.4" fill="#D3DBE6" stroke="#C9D3DF" stroke-width="0.4"/>
<path d="M482.20 429.30L480.80 429.30Q479.20 429.30 479.20 430.90L479.20 432.00V438.40L479.20 439.50Q479.20 441.10 480.80 441.10L482.20 441.10" stroke="#C2C2A2" stroke-width="0.75" fill="none"/>
<text x="485.60" y="426.55" font-size="6.12" fill="#1e1e1e" stroke="#1e1e1e" stroke-width="0.06" textLength="30.00" lengthAdjust="spacingAndGlyphs">涨停出货法</text>
<path d="M482.20 429.30H518.50" stroke="#CDCDB0" stroke-width="0.75" fill="none"/>
<text x="485.60" y="438.35" font-size="6.12" fill="#1e1e1e" stroke="#1e1e1e" stroke-width="0.06" textLength="30.00" lengthAdjust="spacingAndGlyphs">跌停出货法</text>
<path d="M482.20 441.10H518.50" stroke="#CDCDB0" stroke-width="0.75" fill="none"/>
<text x="433.80" y="449.58" font-size="6.19" fill="#1e1e1e" stroke="#1e1e1e" stroke-width="0.06" textLength="42.50" lengthAdjust="spacingAndGlyphs">高位突破位巨量</text>
<path d="M427.50 452.30H479.00" stroke="#CDCDB0" stroke-width="0.75" fill="none"/>
<rect x="431.30" y="454.30" width="47.50" height="10.00" rx="0.6" fill="url(#gRedL)"/>
<text x="433.80" y="461.68" font-size="6.19" fill="#1A0808" stroke="#1A0808" stroke-width="0.06" font-weight="700" textLength="42.50" lengthAdjust="spacingAndGlyphs">盘口委托的猫腻</text>
<ellipse cx="470.00" cy="475.50" rx="36.90" ry="6.95" fill="url(#gYel)" stroke="#73520F" stroke-width="1.35"/>
<text x="436.60" y="477.57" font-size="6.16" fill="#5A4214" stroke="#5A4214" stroke-width="0.06" font-weight="700" textLength="66.40" lengthAdjust="spacingAndGlyphs">软件数据回报缺陷的利用</text>
<text x="433.80" y="493.98" font-size="6.19" fill="#1e1e1e" stroke="#1e1e1e" stroke-width="0.06" textLength="42.50" lengthAdjust="spacingAndGlyphs">除权的软件问题</text>
<path d="M430.50 496.20H479.00" stroke="#CDCDB0" stroke-width="0.75" fill="none"/>
</g>
</svg>
</body></html>
